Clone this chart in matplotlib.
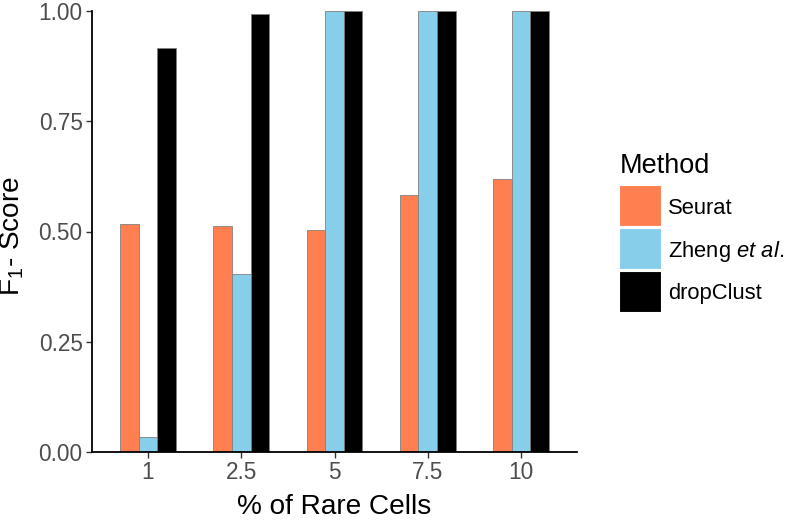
import matplotlib
matplotlib.use("Agg")
import matplotlib.pyplot as plt
from matplotlib.patches import Rectangle
import numpy as np

plt.rcParams['font.family'] = ['Liberation Sans', 'DejaVu Sans']
plt.rcParams['mathtext.fontset'] = 'custom'
plt.rcParams['mathtext.rm'] = 'Liberation Sans'
plt.rcParams['mathtext.it'] = 'Liberation Sans:italic'

categories = ['1', '2.5', '5', '7.5', '10']
methods = ['Seurat', 'Zheng $\\it{et\\ al.}$', 'dropClust']
seurat = [0.517, 0.513, 0.503, 0.583, 0.619]
zheng = [0.034, 0.403, 1.0, 1.0, 1.0]
dropclust = [0.917, 0.993, 1.0, 1.0, 1.0]
colors = ['#FF7F50', '#87CEEB', '#000000']

W, H = 785, 526
fig = plt.figure(figsize=(W / 100, H / 100), dpi=100)
ax = fig.add_axes([92 / W, 1 - 452 / H, 485 / W, 441 / H])

x = np.arange(1, len(categories) + 1)
w = 0.2
for i, (vals, col) in enumerate(zip([seurat, zheng, dropclust], colors)):
    ax.bar(x + (i - 1) * w, vals, width=w, color=col, edgecolor='#808080',
           linewidth=0.6)

ax.set_xlim(0.4, 5.6)
ax.set_ylim(0, 1)
ax.set_xticks(x)
ax.set_xticklabels(categories)
ax.set_yticks([0, 0.25, 0.5, 0.75, 1.0])
ax.set_yticklabels(['0.00', '0.25', '0.50', '0.75', '1.00'])

for s in ['top', 'right']:
    ax.spines[s].set_visible(False)
for s in ['left', 'bottom']:
    ax.spines[s].set_linewidth(1.3)
    ax.spines[s].set_color('black')
ax.tick_params(axis='both', colors='#333333', width=1.0, length=4.5,
               labelsize=16.3, labelcolor='#4D4D4D', pad=2.2)

ax.set_xlabel('% of Rare Cells', fontsize=20.2, labelpad=7)
ax.set_ylabel('F$_1$- Score', fontsize=20.2)
ax.yaxis.set_label_coords(-0.136, 0.49)

# legend drawn by hand (ggplot style keys)
def fx(px):
    return px / W

def fy(py):
    return 1 - py / H

fig.text(fx(620), fy(173), 'Method', fontsize=19.5, ha='left', va='baseline')
key_tops = [185, 228, 271]
for top, col, lab in zip(key_tops, colors, methods):
    fig.add_artist(Rectangle((fx(619), fy(top + 41)), 42 / W, 41 / H,
                             transform=fig.transFigure, facecolor=col,
                             edgecolor='white', linewidth=0.8))
    fig.text(fx(668), fy(top + 20.5), lab, fontsize=15.8, ha='left',
             va='center_baseline')

fig.savefig('out.png', dpi=100)
